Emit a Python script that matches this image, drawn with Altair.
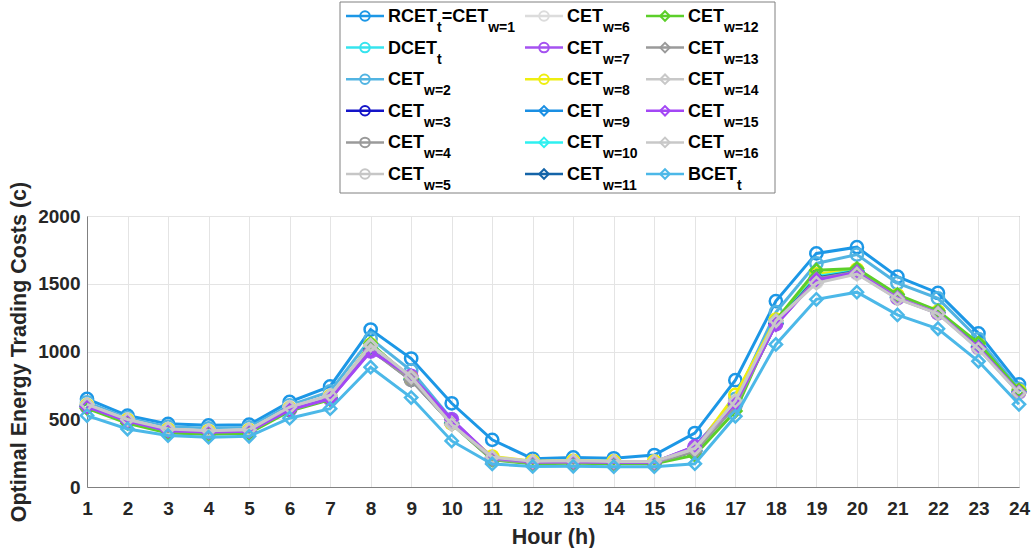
import altair as alt
import pandas as pd

# ---------------- data ----------------
HOURS = list(range(1, 25))

SERIES = ["RCET_t=CET_w=1", "DCET_t", "CET_w=2", "CET_w=3", "CET_w=4", "CET_w=5",
          "CET_w=6", "CET_w=7", "CET_w=8", "CET_w=9", "CET_w=10", "CET_w=11",
          "CET_w=12", "CET_w=13", "CET_w=14", "CET_w=15", "CET_w=16", "BCET_t"]

# legend label pieces: (main text, subscript)
LEGEND_PARTS = [
    [("RCET", "t"), ("=CET", "w=1")], [("DCET", "t")], [("CET", "w=2")],
    [("CET", "w=3")], [("CET", "w=4")], [("CET", "w=5")],
    [("CET", "w=6")], [("CET", "w=7")], [("CET", "w=8")],
    [("CET", "w=9")], [("CET", "w=10")], [("CET", "w=11")],
    [("CET", "w=12")], [("CET", "w=13")], [("CET", "w=14")],
    [("CET", "w=15")], [("CET", "w=16")], [("BCET", "t")],
]

V_RCET = [650, 527, 466, 455, 460, 628, 742, 1162, 948, 618, 348, 208, 218, 212, 236, 398, 788, 1372, 1724, 1770, 1552, 1432, 1134, 757]
V_DCET = [600, 492, 420, 408, 415, 578, 662, 1030, 800, 478, 210, 183, 186, 183, 182, 270, 620, 1215, 1560, 1600, 1410, 1290, 1045, 705]
V_W2 = [625, 508, 445, 433, 440, 603, 705, 1095, 860, 500, 200, 178, 182, 180, 182, 295, 650, 1290, 1650, 1715, 1505, 1392, 1092, 725]
V_W3 = [598, 490, 418, 407, 414, 575, 660, 1025, 795, 475, 208, 182, 185, 182, 181, 268, 610, 1210, 1550, 1595, 1405, 1288, 1040, 702]
V_W4 = [595, 488, 416, 405, 412, 572, 655, 1015, 790, 470, 205, 180, 183, 180, 179, 265, 600, 1205, 1540, 1590, 1400, 1285, 1030, 700]
V_W5 = [605, 495, 425, 413, 420, 585, 670, 1040, 810, 485, 215, 187, 190, 186, 185, 278, 620, 1220, 1520, 1580, 1395, 1282, 1025, 698]
V_W6 = [608, 497, 427, 415, 422, 588, 675, 1045, 812, 490, 218, 189, 192, 188, 187, 282, 630, 1225, 1510, 1575, 1390, 1280, 1020, 695]
V_W7 = [590, 485, 415, 404, 411, 568, 650, 1000, 820, 500, 215, 185, 187, 184, 183, 300, 620, 1200, 1530, 1585, 1395, 1283, 1030, 700]
V_W8 = [602, 493, 423, 411, 418, 580, 668, 1050, 805, 470, 225, 190, 193, 189, 188, 275, 680, 1235, 1570, 1605, 1415, 1295, 1050, 710]
V_W9 = [597, 489, 417, 406, 413, 574, 658, 1020, 792, 472, 206, 181, 184, 181, 180, 266, 605, 1208, 1545, 1592, 1402, 1287, 1035, 701]
V_W10 = [599, 491, 419, 407, 414, 576, 661, 1027, 798, 476, 209, 182, 185, 182, 181, 269, 612, 1212, 1555, 1598, 1408, 1289, 1042, 703]
V_W11 = [596, 488, 417, 405, 412, 573, 657, 1018, 791, 471, 206, 181, 184, 181, 180, 266, 603, 1207, 1543, 1591, 1401, 1286, 1033, 700]
V_W12 = [580, 470, 398, 390, 396, 560, 645, 1060, 800, 465, 200, 172, 175, 172, 171, 235, 560, 1230, 1600, 1612, 1420, 1300, 1062, 715]
V_W13 = [594, 487, 415, 404, 411, 570, 652, 1010, 788, 468, 204, 180, 183, 180, 179, 264, 598, 1200, 1535, 1588, 1398, 1284, 1028, 699]
V_W14 = [606, 496, 426, 414, 421, 586, 672, 1042, 811, 487, 216, 188, 191, 187, 186, 280, 625, 1222, 1515, 1578, 1392, 1281, 1022, 696]
V_W15 = [592, 486, 416, 405, 412, 569, 652, 1003, 818, 498, 214, 184, 186, 183, 182, 298, 618, 1198, 1528, 1583, 1394, 1282, 1029, 699]
V_W16 = [610, 498, 428, 416, 423, 590, 678, 1048, 814, 460, 220, 190, 193, 189, 188, 285, 635, 1228, 1505, 1572, 1388, 1279, 1018, 693]
V_BCET = [527, 428, 380, 368, 374, 508, 578, 884, 660, 340, 170, 152, 153, 150, 150, 172, 522, 1052, 1385, 1438, 1270, 1168, 928, 610]

VALUES = [V_RCET, V_DCET, V_W2, V_W3, V_W4, V_W5, V_W6, V_W7, V_W8, V_W9,
          V_W10, V_W11, V_W12, V_W13, V_W14, V_W15, V_W16, V_BCET]

Y_TICKS = [0, 500, 1000, 1500, 2000]

# ---------------- styles ----------------
COLORS = ["#1c97e6", "#36e4ee", "#52b4e2", "#1414c8", "#9a9a9a", "#c6c6c6",
          "#dcdcdc", "#a552f0", "#eeee10", "#1a8fe3", "#2ef0f0", "#1464a8",
          "#5ccf2a", "#9a9a9a", "#c8c8c8", "#a347f5", "#c8c8c8", "#4cb8e8"]
SHAPES = ["circle"] * 9 + ["diamond"] * 9

FONT = "Liberation Sans"
TXT = "#262626"
PLOT_L = 87          # page x of the plot area's left edge (legend is aligned to it)
PLOT_W, PLOT_H = 932, 271

# ---------------- main plot ----------------
rows = []
for name, vals in zip(SERIES, VALUES):
    for h, v in zip(HOURS, vals):
        rows.append({"series": name, "hour": h, "cost": v})
df = pd.DataFrame(rows)

x_enc = alt.X("hour:Q", scale=alt.Scale(domain=[1, 24], nice=False, zero=False),
              axis=alt.Axis(values=HOURS, title="Hour (h)", format="d", labelFlush=False,
                            labelPadding=12, titlePadding=8))
y_enc = alt.Y("cost:Q", scale=alt.Scale(domain=[0, 2000], nice=False),
              axis=alt.Axis(values=Y_TICKS, title="Optimal Energy Trading Costs (c)",
                            format="d", labelFlush=False, labelPadding=7, titlePadding=7))

base = alt.Chart(df)
layers = []
for name, col, shp in zip(SERIES, COLORS, SHAPES):
    b = base.transform_filter(alt.datum.series == name)
    layers.append(b.mark_line(color=col, strokeWidth=3).encode(x=x_enc, y=y_enc))
    layers.append(b.mark_point(shape=shp, color=col, filled=False, size=150,
                               strokeWidth=2.5, opacity=1).encode(x=x_enc, y=y_enc))

plot = alt.layer(*layers).properties(
    width=PLOT_W, height=PLOT_H,
    view=alt.ViewBackground(stroke="#808080", strokeWidth=1))

# ---------------- custom legend ----------------
W_BOLD = {"R": 722, "C": 722, "E": 667, "T": 611, "D": 722, "B": 722, "=": 584,
          "w": 778, "t": 333, "0": 556, "1": 556, "2": 556, "3": 556, "4": 556,
          "5": 556, "6": 556, "7": 556, "8": 556, "9": 556}
MAIN_FS, SUB_FS = 18, 14


def text_w(s, fs):
    return sum(W_BOLD.get(ch, 600) for ch in s) * fs / 1000.0


COL_LINE_X = [346, 525, 646]
ROW_Y0, ROW_DY = 15, 31.6

leg_items, leg_text = [], []
for i, (name, parts) in enumerate(zip(SERIES, LEGEND_PARTS)):
    c, r = divmod(i, 6)
    lx = COL_LINE_X[c] - PLOT_L
    ly = ROW_Y0 + r * ROW_DY
    leg_items.append({"series": name, "lx": lx, "lx2": lx + 38, "mx": lx + 19, "ly": ly})
    tx = lx + 42
    for main, sub in parts:
        leg_text.append({"t": main, "x": tx, "y": ly + 1, "kind": "main"})
        tx += text_w(main, MAIN_FS)
        leg_text.append({"t": sub, "x": tx, "y": ly + 12, "kind": "sub"})
        tx += text_w(sub, SUB_FS)

li = pd.DataFrame(leg_items)
lt = pd.DataFrame(leg_text)
col_scale = alt.Scale(domain=SERIES, range=COLORS)
shp_scale = alt.Scale(domain=SERIES, range=SHAPES)

box = alt.Chart(pd.DataFrame({"k": [0]})).mark_rect(
    fill="white", stroke="#808080", strokeWidth=1).encode(
    x=alt.value(340 - PLOT_L), x2=alt.value(775 - PLOT_L), y=alt.value(1), y2=alt.value(192))
leg_lines = alt.Chart(li).mark_rule(strokeWidth=2.5).encode(
    x=alt.X("lx:Q", scale=None), x2="lx2:Q", y=alt.Y("ly:Q", scale=None),
    color=alt.Color("series:N", scale=col_scale, legend=None))
leg_pts = alt.Chart(li).mark_point(filled=False, size=90, strokeWidth=2, opacity=1).encode(
    x=alt.X("mx:Q", scale=None), y=alt.Y("ly:Q", scale=None),
    color=alt.Color("series:N", scale=col_scale, legend=None),
    shape=alt.Shape("series:N", scale=shp_scale, legend=None))
leg_main = alt.Chart(lt).transform_filter(alt.datum.kind == "main").mark_text(
    align="left", baseline="middle", font=FONT, fontSize=MAIN_FS, fontWeight="bold",
    color="black").encode(x=alt.X("x:Q", scale=None), y=alt.Y("y:Q", scale=None), text="t:N")
leg_sub = alt.Chart(lt).transform_filter(alt.datum.kind == "sub").mark_text(
    align="left", baseline="middle", font=FONT, fontSize=SUB_FS, fontWeight="bold",
    color="black").encode(x=alt.X("x:Q", scale=None), y=alt.Y("y:Q", scale=None), text="t:N")

legend = alt.layer(box, leg_lines, leg_pts, leg_main, leg_sub).properties(
    width=PLOT_W, height=195)

chart = alt.vconcat(legend, plot, spacing=20, bounds="flush").resolve_scale(
    x="independent", y="independent", color="independent", shape="independent"
).properties(
    padding={"left": 8, "top": 0, "right": 0, "bottom": 0},
    autosize=alt.AutoSizeParams(type="pad"),
).configure(background="white").configure_view(
    stroke="transparent"
).configure_axis(
    grid=True, gridColor="#e4e4e4", gridWidth=1,
    domainColor="#808080", domainWidth=1, ticks=False,
    labelFont=FONT, labelFontSize=19, labelFontWeight="bold", labelColor=TXT,
    titleFont=FONT, titleFontSize=21.5, titleFontWeight="bold", titleColor=TXT,
)

chart.save("out.html", embed_options={"renderer": "svg", "actions": False})
